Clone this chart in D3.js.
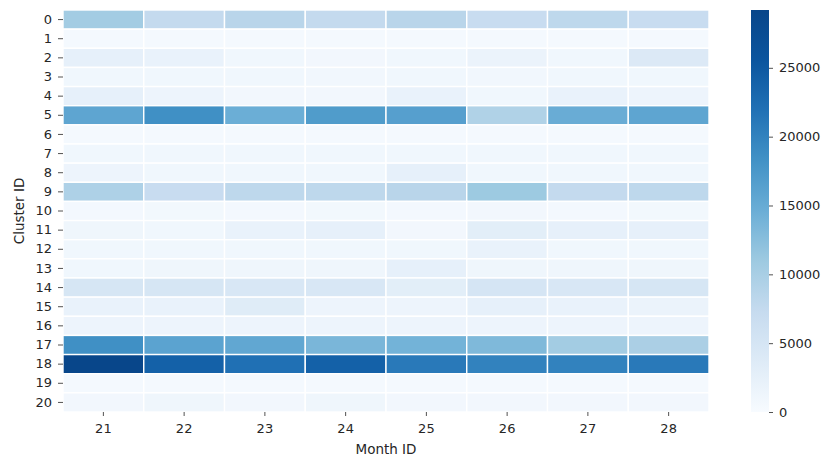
<!DOCTYPE html>
<html>
<head>
<meta charset="utf-8">
<script src="https://cdn.jsdelivr.net/npm/d3@7"></script>
<style>
  body { margin: 0; background: #fff; }
  text { font-family: "DejaVu Sans", sans-serif; fill: #262626; }
</style>
</head>
<body>
<svg id="chart" width="827" height="459"></svg>
<script>
const months = [21, 22, 23, 24, 25, 26, 27, 28];
const clusters = d3.range(0, 21);

// valores por cluster (linhas), um por mês
const values = [
  [10500, 7500, 8500, 7500, 8500, 7000, 8000, 7000],
  [500, 500, 500, 500, 500, 500, 500, 500],
  [2500, 2000, 1000, 800, 1000, 1800, 1000, 4000],
  [1000, 1000, 1000, 900, 1000, 900, 1000, 1000],
  [2500, 1500, 800, 800, 2000, 1000, 2000, 1500],
  [15800, 18500, 14600, 17000, 16500, 9300, 14800, 15800],
  [500, 500, 500, 500, 500, 500, 500, 500],
  [1000, 1000, 1000, 1000, 1000, 1000, 1000, 1000],
  [1500, 1000, 1000, 1000, 2500, 1000, 1000, 1000],
  [9500, 7000, 8000, 8000, 8500, 11000, 7500, 8000],
  [600, 700, 600, 700, 600, 800, 600, 700],
  [1200, 1000, 2000, 2500, 800, 3000, 2500, 2500],
  [1000, 1000, 1000, 1000, 1000, 2000, 1000, 1000],
  [1000, 1200, 1200, 1200, 2500, 1200, 1200, 1200],
  [4800, 4800, 4500, 4600, 3000, 5000, 4500, 4800],
  [2000, 2000, 3500, 1500, 1500, 2500, 2000, 1800],
  [1500, 1500, 1500, 1500, 1500, 1500, 1500, 1500],
  [18500, 16000, 15500, 13500, 14000, 13200, 10500, 9800],
  [29200, 24000, 22000, 24000, 21000, 20000, 20000, 21000],
  [500, 500, 500, 500, 500, 500, 500, 500],
  [800, 1200, 800, 1200, 800, 800, 800, 800]
];
const cbarTicks = [0, 5000, 10000, 15000, 20000, 25000];
const vmax = 29200;

// Blues, com o topo ajustado ao tom visto na figura
const blues = ["#f7fbff", "#deebf7", "#c6dbef", "#9ecae1", "#6baed6", "#4292c6", "#2171b5", "#0b559e", "#08468a"];
const color = d3.scaleLinear()
  .domain(blues.map((_, i) => i / (blues.length - 1) * vmax))
  .range(blues)
  .clamp(true);

const svg = d3.select("#chart");
const mLeft = 63, mRight = 709, mTop = 10, mBottom = 412;

const x = d3.scaleBand().domain(months).range([mLeft, mRight]);
const y = d3.scaleBand().domain(clusters).range([mTop, mBottom]);

const cells = [];
clusters.forEach((c, i) => months.forEach((m, j) => cells.push({ c, m, v: values[i][j] })));

svg.append("g").selectAll("rect")
  .data(cells)
  .join("rect")
  .attr("x", d => x(d.m))
  .attr("y", d => y(d.c))
  .attr("width", x.bandwidth())
  .attr("height", y.bandwidth())
  .attr("fill", d => color(d.v))
  .attr("stroke", "#fff")
  .attr("stroke-width", 1.4);

// eixos
const xAxis = svg.append("g").attr("transform", `translate(0,${mBottom})`)
  .call(d3.axisBottom(x).tickSize(4).tickPadding(8));
const yAxis = svg.append("g").attr("transform", `translate(${mLeft},0)`)
  .call(d3.axisLeft(y).tickSize(5).tickPadding(6));
[xAxis, yAxis].forEach(g => {
  g.select(".domain").remove();
  g.selectAll("line").attr("stroke", "#262626").attr("stroke-width", 0.8);
  g.selectAll("text").style("font-size", "13px").style("fill", "#262626").attr("font-family", "DejaVu Sans");
});

svg.append("text")
  .attr("x", 386).attr("y", 454)
  .attr("text-anchor", "middle").style("font-size", "13.5px")
  .text("Month ID");
svg.append("text")
  .attr("transform", `translate(24,${(mTop + mBottom) / 2}) rotate(-90)`)
  .attr("text-anchor", "middle").style("font-size", "13.5px")
  .text("Cluster ID");

// barra de cores
const cbX = 751, cbW = 18;
const cbScale = d3.scaleLinear().domain([0, vmax]).range([mBottom, mTop]);
const defs = svg.append("defs");
const grad = defs.append("linearGradient").attr("id", "cbGrad")
  .attr("x1", "0%").attr("x2", "0%").attr("y1", "100%").attr("y2", "0%");
blues.forEach((c, i) => {
  grad.append("stop").attr("offset", `${i / (blues.length - 1) * 100}%`).attr("stop-color", c);
});
svg.append("rect")
  .attr("x", cbX).attr("y", mTop)
  .attr("width", cbW).attr("height", mBottom - mTop)
  .attr("fill", "url(#cbGrad)");

const cbAxis = svg.append("g").attr("transform", `translate(${cbX + cbW},0)`)
  .call(d3.axisRight(cbScale).tickValues(cbarTicks).tickSize(4).tickPadding(6).tickFormat(d3.format("d")));
cbAxis.select(".domain").remove();
cbAxis.selectAll("line").attr("stroke", "#262626").attr("stroke-width", 0.8);
cbAxis.selectAll("text").style("font-size", "13px").style("fill", "#262626").attr("font-family", "DejaVu Sans");
</script>
</body>
</html>
